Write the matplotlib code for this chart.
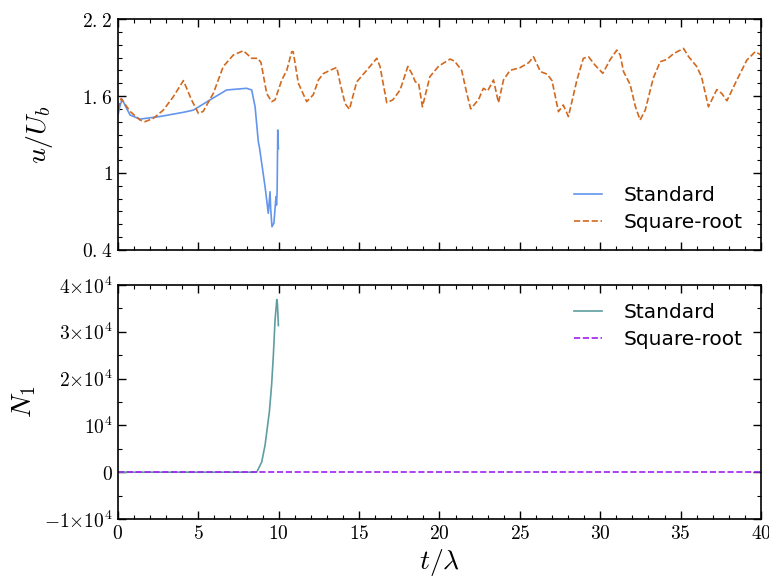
import numpy as np
import matplotlib
matplotlib.use("Agg")
import matplotlib.pyplot as plt
from matplotlib.ticker import MultipleLocator, FixedLocator, FuncFormatter

plt.rcParams['mathtext.fontset'] = 'cm'

# u/U_b, standard model (blows up near t ~ 10)
t_std = [0.0, 0.08, 0.25, 0.75, 1.37, 2.6, 4.07, 4.69, 5.73, 6.76, 8.0, 8.32, 8.53,
         8.73, 8.8, 9.15, 9.35, 9.46, 9.5, 9.58, 9.7, 9.83, 9.86, 9.9, 9.94, 9.98]
u_std = [1.45, 1.50, 1.575, 1.452, 1.42, 1.44, 1.473, 1.49, 1.57, 1.647, 1.66, 1.647, 1.516,
         1.244, 1.2, 0.893, 0.686, 0.854, 0.72, 0.581, 0.61, 0.815, 0.75, 0.85, 1.335, 1.19]

# u/U_b, square-root model
t_sqr = [0.0, 0.2, 0.75, 1.37, 1.68, 2.2, 2.82, 3.44, 4.07, 4.58, 5.0, 5.3, 5.93, 6.55,
         7.18, 7.8, 8.32, 8.7, 8.9, 9.25, 9.56, 9.77, 10.19, 10.5, 10.81, 10.9, 11.22,
         11.74, 12.15, 12.47, 12.78, 13.19, 13.61, 13.82, 14.13, 14.4, 14.85, 15.47,
         16.1, 16.3, 16.72, 17.1, 17.55, 18.03, 18.28, 18.5, 18.7, 18.94, 19.4, 19.93,
         20.04, 20.66, 20.95, 21.38, 21.7, 21.94, 22.42, 22.73, 23.0, 23.36, 23.67,
         23.98, 24.39, 25.0, 25.55, 25.85, 26.28, 26.7, 27.0, 27.4, 27.7, 28.02, 28.55,
         28.95, 29.27, 29.68, 30.16, 30.6, 31.03, 31.24, 31.45, 31.86, 32.18, 32.48,
         32.8, 33.3, 33.73, 34.14, 34.56, 35.18, 35.5, 36.0, 36.3, 36.73, 37.25, 37.56,
         37.88, 38.5, 39.12, 39.64, 40.0]
u_sqr = [1.5, 1.58, 1.48, 1.413, 1.40, 1.426, 1.49, 1.594, 1.72, 1.569, 1.465, 1.48, 1.62,
         1.83, 1.92, 1.953, 1.894, 1.894, 1.86, 1.62, 1.556, 1.57, 1.725, 1.80, 1.945,
         1.945, 1.70, 1.556, 1.61, 1.725, 1.775, 1.80, 1.823, 1.70, 1.54, 1.496, 1.71,
         1.80, 1.894, 1.83, 1.548, 1.57, 1.647, 1.83, 1.775, 1.71, 1.70, 1.516, 1.75,
         1.83, 1.84, 1.888, 1.87, 1.80, 1.62, 1.50, 1.57, 1.66, 1.64, 1.725, 1.548,
         1.725, 1.80, 1.82, 1.86, 1.906, 1.79, 1.77, 1.72, 1.478, 1.53, 1.44, 1.725,
         1.894, 1.906, 1.84, 1.777, 1.88, 1.958, 1.92, 1.79, 1.69, 1.52, 1.413, 1.49,
         1.74, 1.867, 1.885, 1.93, 1.971, 1.906, 1.83, 1.75, 1.516, 1.65, 1.62, 1.563,
         1.725, 1.88, 1.945, 1.92]

# N_1
t_n_std = [0.0, 8.63, 8.94, 9.15, 9.42, 9.56, 9.67, 9.77, 9.88, 9.92, 9.98]
n_std = [0, 0, 2160, 5770, 12970, 18740, 25230, 32430, 36900, 36000, 31350]
t_n_sqr = [0.0, 40.0]
n_sqr = [0, 0]


def cm_fmt(v, pos):
    if abs(v - round(v)) < 1e-9:
        return r'$%d$' % round(v)
    s = '%.1f' % v
    return r'$%s.\hspace{0.08}%s$' % tuple(s.split('.'))


def sci_fmt(v, pos):
    if v == 0:
        return r'$0$'
    m = int(round(v / 1e4))
    if m == 1:
        return r'$10^4$'
    return r'$%d{\times}10^4$' % m


fig = plt.figure(figsize=(7.69, 5.80), dpi=100)
ax1 = fig.add_axes([0.1534, 0.569, 0.8362, 0.3982])
ax2 = fig.add_axes([0.1534, 0.1052, 0.8362, 0.4034], sharex=ax1)

ax1.plot(t_std, u_std, color='cornflowerblue', lw=1.2, label='Standard')
ax1.plot(t_sqr, u_sqr, color='chocolate', lw=1.2, ls='--', label='Square-root')
ax1.set_ylim(0.4, 2.2)
ax1.yaxis.set_major_locator(FixedLocator([0.4, 1.0, 1.6, 2.2]))
ax1.yaxis.set_minor_locator(MultipleLocator(0.1))
ax1.yaxis.set_major_formatter(FuncFormatter(cm_fmt))
ax1.set_ylabel(r'$u/U_b$', fontsize=20)
ax1.yaxis.set_label_coords(-0.098, 0.5)
ax1.legend(loc='lower right', frameon=False, fontsize=14.5, handlelength=1.4,
           handletextpad=1.1, labelspacing=0.4)

ax2.plot(t_n_std, n_std, color='cadetblue', lw=1.2, label='Standard')
ax2.plot(t_n_sqr, n_sqr, color='#a020f0', lw=1.2, ls='--', label='Square-root')
ax2.set_ylim(-1e4, 4e4)
ax2.yaxis.set_major_locator(MultipleLocator(1e4))
ax2.yaxis.set_minor_locator(MultipleLocator(5e3))
ax2.yaxis.set_major_formatter(FuncFormatter(sci_fmt))
ax2.set_ylabel(r'$N_1$', fontsize=20)
ax2.yaxis.set_label_coords(-0.124, 0.5)
ax2.legend(loc='upper right', frameon=False, fontsize=14.5, handlelength=1.4,
           handletextpad=1.1, labelspacing=0.4)

ax2.set_xlim(0, 40)
ax2.xaxis.set_major_locator(MultipleLocator(5))
ax2.xaxis.set_minor_locator(MultipleLocator(1))
ax2.xaxis.set_major_formatter(FuncFormatter(cm_fmt))
ax2.set_xlabel(r'$t/\lambda$', fontsize=20, labelpad=3)
plt.setp(ax1.get_xticklabels(), visible=False)

for ax in (ax1, ax2):
    ax.tick_params(which='both', direction='in', top=True, right=True, labelsize=14)
    ax.tick_params(which='major', length=6, width=1)
    ax.tick_params(which='minor', length=3, width=0.8)
    for s in ax.spines.values():
        s.set_linewidth(1.2)

fig.savefig('out.png', dpi=100)
